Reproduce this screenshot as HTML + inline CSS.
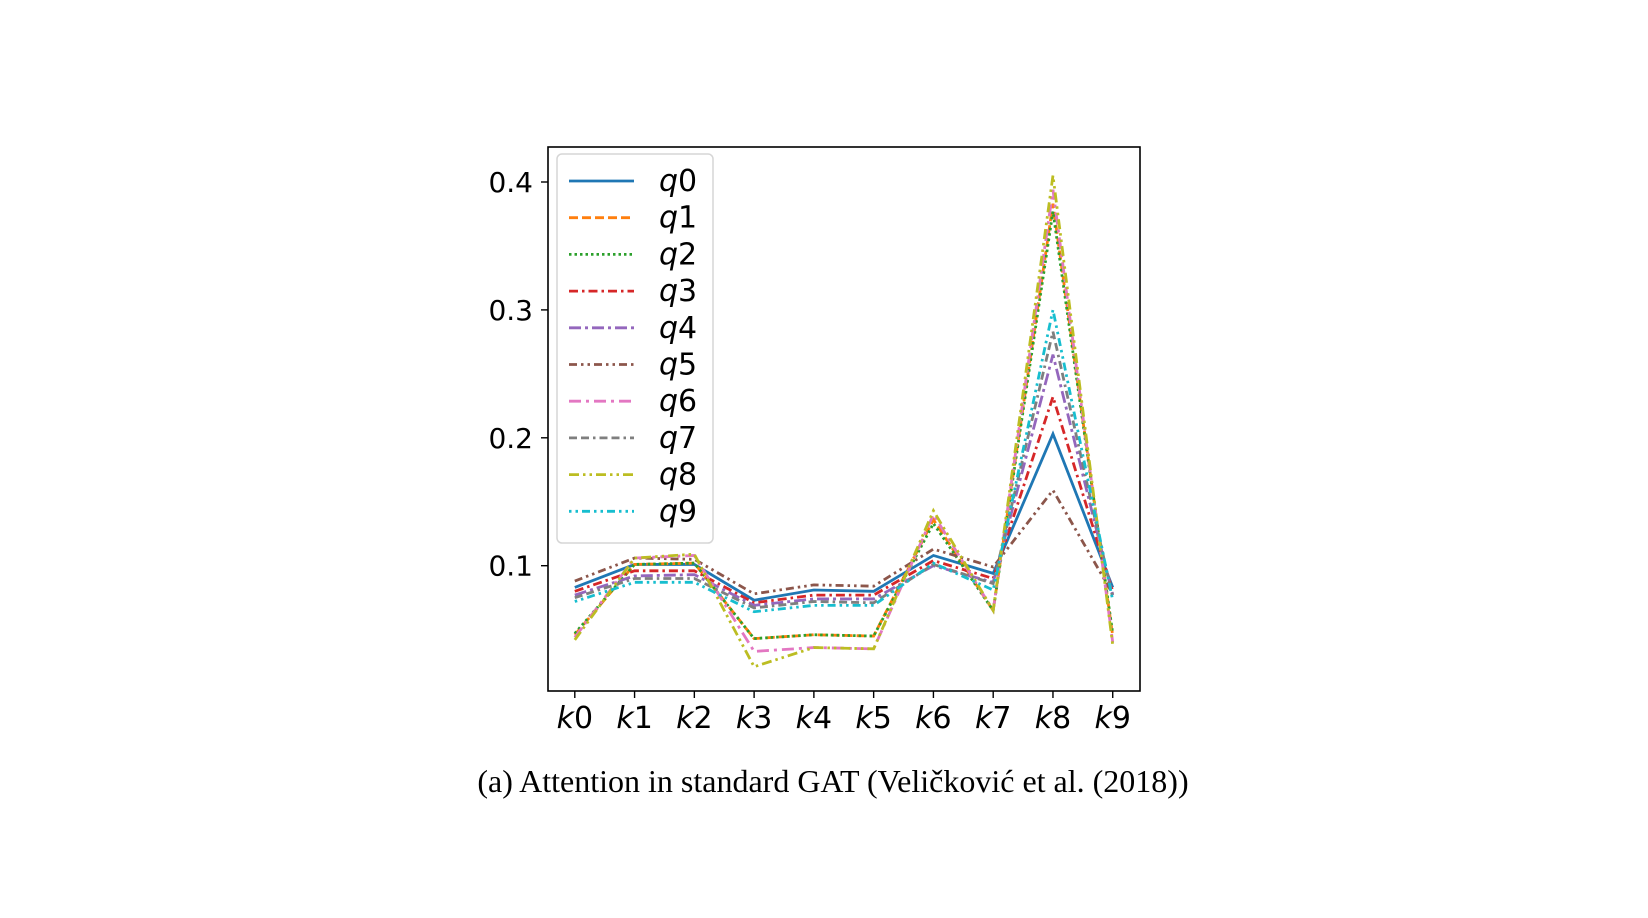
<!DOCTYPE html>
<html><head><meta charset="utf-8"><style>
html,body{margin:0;padding:0;background:#fff;}
svg{display:block;}
</style></head><body>
<svg id="chart" width="1648" height="918" viewBox="0 0 1648 918" xmlns="http://www.w3.org/2000/svg">
<g id="series"></g>
<rect x="548" y="147" width="592" height="544" fill="none" stroke="#000" stroke-width="1.6"/>
<g id="axes"></g>
<g id="legend"></g>
<text x="833" y="792" text-anchor="middle" font-family="Liberation Serif, serif" font-size="32" fill="#000">(a) Attention in standard GAT (Veličković et al. (2018))</text>
</svg>
<script>
const categories = ["k0","k1","k2","k3","k4","k5","k6","k7","k8","k9"];
const seriesNames = ["q0","q1","q2","q3","q4","q5","q6","q7","q8","q9"];
const yTicks = [0.1,0.2,0.3,0.4];
const yTickLabels = ["0.1","0.2","0.3","0.4"];
const q0 = [0.083,0.101,0.101,0.073,0.081,0.080,0.108,0.094,0.203,0.083];
const q1 = [0.046,0.101,0.102,0.043,0.046,0.045,0.136,0.065,0.383,0.045];
const q2 = [0.047,0.101,0.102,0.043,0.046,0.045,0.133,0.065,0.377,0.047];
const q3 = [0.080,0.096,0.096,0.071,0.077,0.077,0.104,0.090,0.232,0.080];
const q4 = [0.077,0.092,0.093,0.069,0.074,0.074,0.100,0.087,0.265,0.077];
const q5 = [0.088,0.106,0.105,0.078,0.085,0.084,0.113,0.099,0.159,0.078];
const q6 = [0.044,0.106,0.108,0.033,0.036,0.035,0.140,0.065,0.394,0.040];
const q7 = [0.075,0.090,0.090,0.067,0.072,0.071,0.101,0.086,0.283,0.075];
const q8 = [0.042,0.106,0.109,0.021,0.036,0.035,0.143,0.065,0.405,0.038];
const q9 = [0.072,0.087,0.087,0.064,0.069,0.069,0.102,0.081,0.300,0.073];
const allSeries = [q0,q1,q2,q3,q4,q5,q6,q7,q8,q9];

const colors = ["#1f77b4","#ff7f0e","#2ca02c","#d62728","#9467bd","#8c564b","#e377c2","#7f7f7f","#bcbd22","#17becf"];
const dashes = ["", "9,4", "2.5,3", "9,4,2.5,4", "12,4,3,4", "8,4,2.5,4,2.5,4", "12,5,3,5", "8,4,8,4,2.5,4", "10,4,2.5,4,2.5,4", "2.5,4,2.5,4,8,4"];
const NS="http://www.w3.org/2000/svg";
const X0=574.8, DX=59.77;
const xs = i => X0 + i*DX;
const ys = v => 565.7 - (v-0.1)*1279;

const gS=document.getElementById('series');
allSeries.forEach((arr,si)=>{
  const p=document.createElementNS(NS,'polyline');
  p.setAttribute('points', arr.map((v,i)=>xs(i)+','+ys(v)).join(' '));
  p.setAttribute('fill','none');
  p.setAttribute('stroke',colors[si]);
  p.setAttribute('stroke-width','2.8');
  if(dashes[si]) p.setAttribute('stroke-dasharray',dashes[si]);
  
  
  gS.appendChild(p);
});

const gA=document.getElementById('axes');
yTicks.forEach((t,i)=>{
  const y=ys(t);
  const l=document.createElementNS(NS,'line');
  l.setAttribute('x1',541); l.setAttribute('x2',548); l.setAttribute('y1',y); l.setAttribute('y2',y);
  l.setAttribute('stroke','#000'); l.setAttribute('stroke-width','1.4');
  
  
  gA.appendChild(l);
  const tx=document.createElementNS(NS,'text');
  tx.setAttribute('x',533); tx.setAttribute('y',y+10);
  tx.setAttribute('text-anchor','end');
  tx.setAttribute('font-family','DejaVu Sans, sans-serif');
  tx.setAttribute('font-size','28');
  tx.textContent=yTickLabels[i];
  
  
  gA.appendChild(tx);
});
categories.forEach((c,i)=>{
  const x=xs(i);
  const l=document.createElementNS(NS,'line');
  l.setAttribute('x1',x); l.setAttribute('x2',x); l.setAttribute('y1',691); l.setAttribute('y2',698);
  l.setAttribute('stroke','#000'); l.setAttribute('stroke-width','1.4');
  
  
  gA.appendChild(l);
  const tx=document.createElementNS(NS,'text');
  tx.setAttribute('x',x); tx.setAttribute('y',728);
  tx.setAttribute('text-anchor','middle');
  tx.setAttribute('font-family','DejaVu Sans, sans-serif');
  tx.setAttribute('font-size','30');
  tx.innerHTML='<tspan font-style="italic">'+c[0]+'</tspan>'+c.slice(1);
  
  
  gA.appendChild(tx);
});

const gL=document.getElementById('legend');
const box=document.createElementNS(NS,'rect');
box.setAttribute('x',557); box.setAttribute('y',154); box.setAttribute('width',156); box.setAttribute('height',389);
box.setAttribute('rx',5); box.setAttribute('fill','#fff'); box.setAttribute('fill-opacity','0.85');
box.setAttribute('stroke','#d6d6d6'); box.setAttribute('stroke-width','1.5');


gL.appendChild(box);
seriesNames.forEach((n,si)=>{
  const y=181+si*36.7;
  const l=document.createElementNS(NS,'line');
  l.setAttribute('x1',569); l.setAttribute('x2',634); l.setAttribute('y1',y); l.setAttribute('y2',y);
  l.setAttribute('stroke',colors[si]); l.setAttribute('stroke-width','2.8');
  if(dashes[si]) l.setAttribute('stroke-dasharray',dashes[si]);
  
  
  gL.appendChild(l);
  const tx=document.createElementNS(NS,'text');
  tx.setAttribute('x',659); tx.setAttribute('y',y+10);
  tx.setAttribute('font-family','DejaVu Sans, sans-serif');
  tx.setAttribute('font-size','30');
  tx.innerHTML='<tspan font-style="italic">q</tspan>'+n.slice(1);
  
  
  gL.appendChild(tx);
});
</script>
</body></html>
